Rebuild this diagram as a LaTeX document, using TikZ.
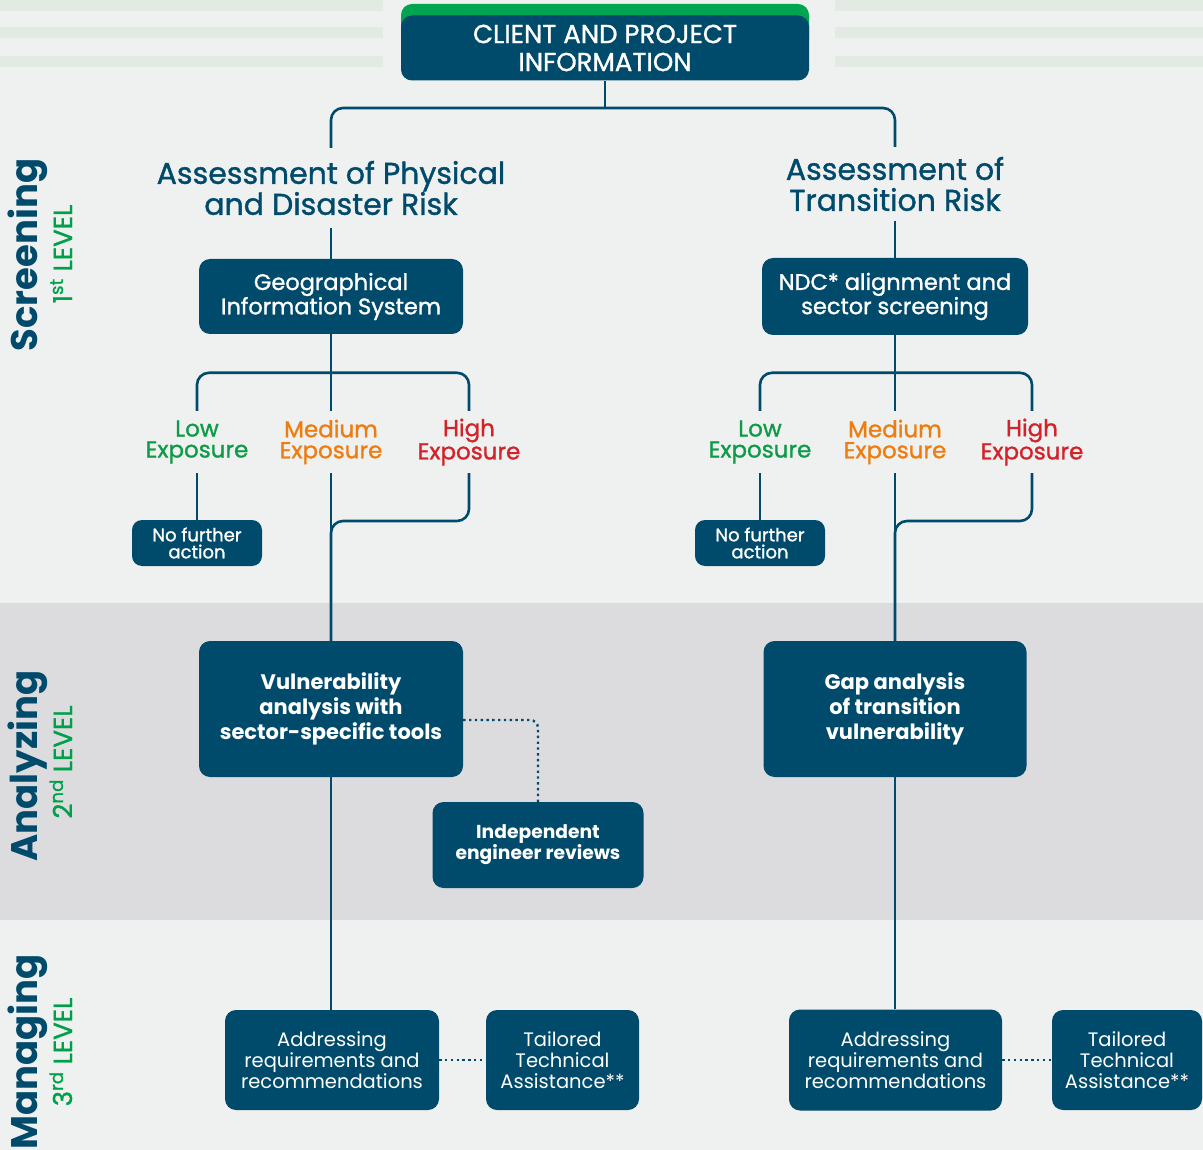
\documentclass[tikz,border=0pt]{standalone}
\usepackage{fontspec}
\setmainfont{Poppins}
\newfontfamily\medfont{Poppins}[FakeBold=1.2]
\usetikzlibrary{positioning}

\definecolor{dkblue}{HTML}{004B6B}
\definecolor{lvlgreen}{HTML}{00A04A}
\definecolor{lowgreen}{HTML}{0E9A47}
\definecolor{medorange}{HTML}{EE7D10}
\definecolor{highred}{HTML}{D2232A}
\definecolor{bglight}{HTML}{EFF1F0}
\definecolor{bgband}{HTML}{DCDCDE}
\definecolor{stripe}{HTML}{E3E9E3}
\definecolor{topgreen}{HTML}{00A54F}

\begin{document}
\begin{tikzpicture}[x=1pt, y=-1pt,
  box/.style={fill=dkblue, text=white, rounded corners=11pt, align=center, inner sep=0pt},
  link/.style={draw=dkblue, line width=2.6pt, rounded corners=12pt},
  dots/.style={draw=dkblue, line width=2.4pt, dash pattern=on 2.4pt off 3.4pt, rounded corners=8pt},
  expo/.style={align=center, inner sep=0pt, minimum height=62pt, font=\medfont\fontsize{23}{21}\selectfont},
  head/.style={align=center, inner sep=0pt, text=dkblue, font=\medfont\fontsize{30}{31}\selectfont},
  stage/.style={rotate=90, anchor=base, inner sep=0pt, text=dkblue, font=\bfseries\fontsize{37}{37}\selectfont},
  level/.style={rotate=90, anchor=base, inner sep=0pt, text=lvlgreen, font=\medfont\fontsize{26}{26}\selectfont}]
\useasboundingbox (0,0) rectangle (1203,1150);
% background bands
\fill[bglight] (0,0) rectangle (1203,1150);
\fill[bgband] (0,603) rectangle (1203,920);
\foreach \y in {0,27,56} {
  \fill[stripe] (0,\y) rectangle (383,\y+11);
  \fill[stripe] (835,\y) rectangle (1203,\y+11);
}

% stage labels
\node[stage] (screen) at (37,255) {Screening};
\node[level] (lvlone) at (72,254) {1\textsuperscript{st} LEVEL};
\node[stage] (analyze) at (37,766) {Analyzing};
\node[level] (lvltwo) at (72,762) {2\textsuperscript{nd} LEVEL};
\node[stage] (manage) at (37,1052) {Managing};
\node[level] (lvlthree) at (72,1052) {3\textsuperscript{rd} LEVEL};

% top
\fill[topgreen, rounded corners=11pt] (401,4) rectangle (809,50);
\node[box, minimum width=408pt, minimum height=65pt, font=\medfont\fontsize{26}{28}\selectfont] (client) at (605,48) {CLIENT AND PROJECT\\INFORMATION};

% screening
\node[head, minimum height=80pt] (headL) at (331,188) {Assessment of Physical\\and Disaster Risk};
\node[head, minimum height=74pt] (headR) at (895,184) {Assessment of\\Transition Risk};
\node[box, minimum width=264pt, minimum height=75pt, font=\medfont\fontsize{22.5}{22}\selectfont] (gis) at (331,296.5) {Geographical\\Information System};
\node[box, minimum width=266pt, minimum height=77pt, font=\medfont\fontsize{22.5}{22}\selectfont] (ndc) at (895,296.5) {NDC* alignment and\\sector screening};

\node[expo, text=lowgreen] (lowL) at (197,442) {Low\\Exposure};
\node[expo, text=medorange] (medL) at (331,442) {Medium\\Exposure};
\node[expo, text=highred] (highL) at (469,442) {High\\Exposure};
\node[expo, text=lowgreen] (lowR) at (760,442) {Low\\Exposure};
\node[expo, text=medorange] (medR) at (895,442) {Medium\\Exposure};
\node[expo, text=highred] (highR) at (1032,442) {High\\Exposure};

\node[box, rounded corners=10pt, minimum width=130pt, minimum height=46pt, font=\medfont\fontsize{18}{17}\selectfont] (nfaL) at (197,543) {No further\\action};
\node[box, rounded corners=10pt, minimum width=130pt, minimum height=46pt, font=\medfont\fontsize{18}{17}\selectfont] (nfaR) at (760,543) {No further\\action};

% analyzing
\node[box, minimum width=264pt, minimum height=136pt, font=\bfseries\fontsize{21}{25}\selectfont] (vuln) at (331,709) {Vulnerability\\analysis with\\sector-specific tools};
\node[box, minimum width=263pt, minimum height=136pt, font=\bfseries\fontsize{21}{25}\selectfont] (gap) at (895,709) {Gap analysis\\of transition\\vulnerability};
\node[box, minimum width=211pt, minimum height=86pt, font=\bfseries\fontsize{18.7}{21}\selectfont] (indep) at (538,845) {Independent\\engineer reviews};

% managing
\node[box, minimum width=214pt, minimum height=100pt, font=\fontsize{19.5}{21}\selectfont] (addrL) at (332,1060) {Addressing\\requirements and\\recommendations};
\node[box, minimum width=153pt, minimum height=100pt, font=\fontsize{19.5}{21}\selectfont] (taL) at (562.5,1060) {Tailored\\Technical\\Assistance**};
\node[box, minimum width=213pt, minimum height=101pt, font=\fontsize{19.5}{21}\selectfont] (addrR) at (895.5,1060) {Addressing\\requirements and\\recommendations};
\node[box, minimum width=150pt, minimum height=100pt, font=\fontsize{19.5}{21}\selectfont] (taR) at (1127,1060) {Tailored\\Technical\\Assistance**};

% connectors
\coordinate (split) at (605,108);
\coordinate (joinL) at (331,521);
\coordinate (joinR) at (895,521);
\draw[link] (client.south) -- (split);
\draw[link] (headL.north) |- (split) -| (headR.north);
\draw[link] (headL.south) -- (gis.north);
\draw[link] (headR.south) -- (ndc.north);
\draw[link] (gis.south) -- (medL.north);
\draw[link] (ndc.south) -- (medR.north);
\draw[link] (lowL.north) -- ++(0,-38) -| (highL.north);
\draw[link] (lowR.north) -- ++(0,-38) -| (highR.north);
\draw[link] (lowL.south) -- (nfaL.north);
\draw[link] (lowR.south) -- (nfaR.north);
\draw[link] (medL.south) -- (vuln.north);
\draw[link] (medR.south) -- (gap.north);
\draw[link] (highL.south) |- (joinL) -- (vuln.north);
\draw[link] (highR.south) |- (joinR) -- (gap.north);
\draw[dots] ([yshift=-11pt]vuln.east) -| (indep.north);
\draw[link] (vuln.south) -- (vuln.south |- addrL.north);
\draw[link] (gap.south) -- (gap.south |- addrR.north);
\draw[dots] (addrL.east) -- (taL.west);
\draw[dots] (addrR.east) -- (taR.west);
\end{tikzpicture}
\end{document}
